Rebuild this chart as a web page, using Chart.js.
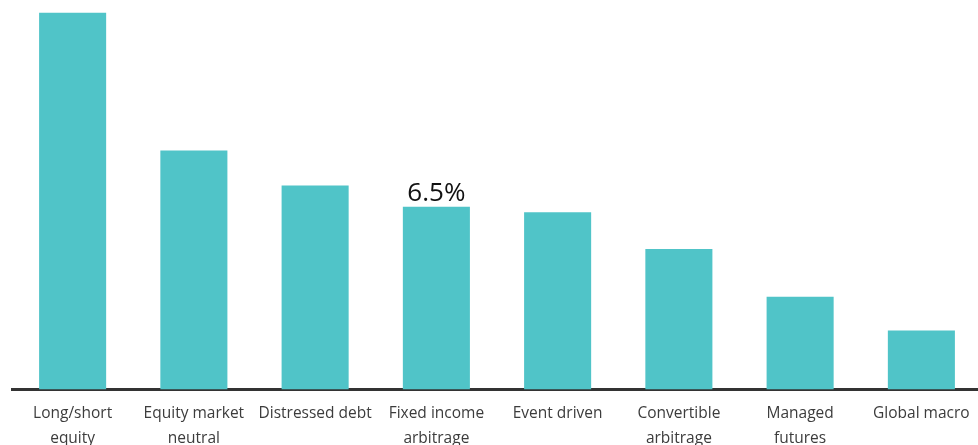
<!DOCTYPE html>
<html>
<head>
<meta charset="utf-8">
<script src="https://cdn.jsdelivr.net/npm/chart.js@4.4.1/dist/chart.umd.min.js"></script>
<style>
  html, body { margin: 0; padding: 0; background: #ffffff; overflow: hidden; }
  #wrap { position: relative; width: 983px; height: 445px; }
</style>
</head>
<body>
<div id="wrap"><canvas id="chart"></canvas></div>
<script>
// Hedge fund strategy returns (%)
const categories = [
  ["Long/short", "equity"],
  ["Equity market", "neutral"],
  ["Distressed debt"],
  ["Fixed income", "arbitrage"],
  ["Event driven"],
  ["Convertible", "arbitrage"],
  ["Managed", "futures"],
  ["Global macro"]
];
const returns = [13.4, 8.5, 7.25, 6.5, 6.3, 5.0, 3.3, 2.1];
const labelledBars = [3];

const FONT = "'Open Sans', 'Noto Sans', sans-serif";

// Writes the value above the selected bars
const valueLabels = {
  id: 'valueLabels',
  afterDatasetsDraw(chart) {
    const ctx = chart.ctx;
    const meta = chart.getDatasetMeta(0);
    ctx.save();
    ctx.font = "26px " + FONT;
    ctx.fillStyle = '#111111';
    ctx.textAlign = 'center';
    ctx.textBaseline = 'alphabetic';
    labelledBars.forEach(i => {
      const bar = meta.data[i];
      ctx.fillText(returns[i].toFixed(1) + '%', bar.x, bar.y - 6);
    });
    ctx.restore();
  }
};

new Chart(document.getElementById('chart'), {
  type: 'bar',
  data: {
    labels: categories,
    datasets: [{
      data: returns,
      backgroundColor: '#50C4C8',
      borderWidth: 0,
      categoryPercentage: 1,
      barPercentage: 0.553
    }]
  },
  options: {
    responsive: true,
    maintainAspectRatio: false,
    animation: false,
    layout: { padding: { left: 12, right: 1, top: 0, bottom: 0 } },
    plugins: {
      legend: { display: false },
      tooltip: { enabled: false }
    },
    scales: {
      x: {
        grid: { display: false, drawTicks: false },
        border: { display: true, color: '#333333', width: 3 },
        ticks: {
          color: '#3c3c3c',
          font: { family: FONT, size: 15.5, lineHeight: 1.6 },
          padding: 12,
          maxRotation: 0,
          autoSkip: false
        },
        afterFit(scale) { scale.height = 55.5; }
      },
      y: {
        display: false,
        min: 0,
        max: 13.85
      }
    }
  },
  plugins: [valueLabels]
});
</script>
</body>
</html>
